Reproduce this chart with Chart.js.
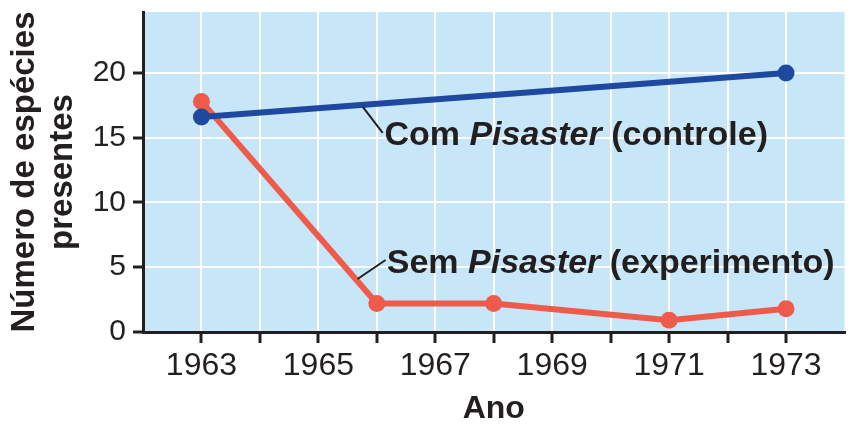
<!DOCTYPE html>
<html lang="pt">
  <head>
    <meta charset="UTF-8" />
    <title>Número de espécies presentes</title>
    <style>
      html, body { margin: 0; padding: 0; background: #fff; }
      #wrap { width: 853px; height: 440px; }
    </style>
  </head>
  <body>
    <div id="wrap"><canvas id="grafico"></canvas></div>

    <script src="https://cdn.jsdelivr.net/npm/chart.js"></script>
    <script>
      // dados
      const anosTicks = [1963, 1964, 1965, 1966, 1967, 1968, 1969, 1970, 1971, 1972, 1973];
      const ticksY = [0, 5, 10, 15, 20];
      const anosCom = [1963, 1973];
      const comPisaster = [16.6, 20];
      const anosSem = [1963, 1966, 1968, 1971, 1973];
      const semPisaster = [17.8, 2.2, 2.2, 0.9, 1.8];

      const AZUL = "#1f48a0";
      const VERMELHO = "#ef5b4b";
      const FUNDO = "#c7e7f8";
      const TEXTO = "#231f20";
      const FONTE = "'Liberation Sans', Arial, sans-serif";

      const pares = (xs, ys) => xs.map((x, i) => ({ x: x, y: ys[i] }));

      const fundoPlugin = {
        id: "fundo",
        beforeDraw(chart) {
          const { ctx, chartArea: a } = chart;
          ctx.save();
          ctx.fillStyle = FUNDO;
          ctx.fillRect(a.left, a.top, a.right - a.left, a.bottom - a.top);
          ctx.restore();
        },
      };

      // rótulos das linhas com traço indicador
      const rotulos = [
        {
          partes: [["Com ", "bold"], ["Pisaster", "italic bold"], [" (controle)", "bold"]],
          x: 1966.13, y: 14.44,
          traco: [1965.76, 17.37, 1966.1, 15.37],
        },
        {
          partes: [["Sem ", "bold"], ["Pisaster", "italic bold"], [" (experimento)", "bold"]],
          x: 1966.17, y: 4.56,
          traco: [1965.67, 4.09, 1966.15, 5.56],
        },
      ];

      const rotulosPlugin = {
        id: "rotulos",
        afterDatasetsDraw(chart) {
          const { ctx, scales } = chart;
          const sx = scales.x, sy = scales.y;
          ctx.save();
          rotulos.forEach((r) => {
            const t = r.traco;
            ctx.strokeStyle = TEXTO;
            ctx.lineWidth = 2;
            ctx.beginPath();
            ctx.moveTo(sx.getPixelForValue(t[0]), sy.getPixelForValue(t[1]));
            ctx.lineTo(sx.getPixelForValue(t[2]), sy.getPixelForValue(t[3]));
            ctx.stroke();

            let px = sx.getPixelForValue(r.x);
            const py = sy.getPixelForValue(r.y);
            ctx.fillStyle = TEXTO;
            ctx.textBaseline = "alphabetic";
            ctx.textAlign = "left";
            r.partes.forEach(([txt, estilo]) => {
              ctx.font = estilo + " 34px " + FONTE;
              ctx.fillText(txt, px, py);
              px += ctx.measureText(txt).width;
            });
          });
          ctx.restore();
        },
      };

      const ctx = document.getElementById("grafico").getContext("2d");
      new Chart(ctx, {
        type: "line",
        data: {
          datasets: [
            {
              label: "Com Pisaster (controle)",
              data: pares(anosCom, comPisaster),
              borderColor: AZUL,
              backgroundColor: AZUL,
              borderWidth: 6,
              pointRadius: 8.5,
              pointBorderWidth: 0,
              order: 1,
            },
            {
              label: "Sem Pisaster (experimento)",
              data: pares(anosSem, semPisaster),
              borderColor: VERMELHO,
              backgroundColor: VERMELHO,
              borderWidth: 6,
              pointRadius: 8.5,
              pointBorderWidth: 0,
              order: 2,
            },
          ],
        },
        options: {
          responsive: true,
          maintainAspectRatio: false,
          animation: false,
          layout: { padding: { top: 12, right: 4, left: 0, bottom: 0 } },
          plugins: {
            legend: { display: false },
            tooltip: { enabled: false },
          },
          scales: {
            x: {
              type: "linear",
              min: 1962,
              max: 1974,
              afterBuildTicks: (s) => { s.ticks = anosTicks.map((v) => ({ value: v })); },
              afterFit: (s) => {
                s.height = 108;
                s.paddingLeft = 0;
                s.paddingRight = 0;
              },
              ticks: {
                autoSkip: false,
                maxRotation: 0,
                padding: 4,
                color: TEXTO,
                font: { family: FONTE, size: 32 },
                callback: (v) => (v % 2 === 1 ? String(v) : ""),
              },
              grid: {
                color: "#ffffff",
                lineWidth: 2,
                tickColor: TEXTO,
                tickWidth: 3,
                tickLength: 11,
              },
              border: { color: TEXTO, width: 3 },
              title: {
                display: true,
                text: "Ano",
                color: TEXTO,
                font: { family: FONTE, size: 32, weight: "bold", lineHeight: 1.2 },
                padding: { top: 0, bottom: 12 },
              },
            },
            y: {
              min: 0,
              max: 24.7,
              afterBuildTicks: (s) => { s.ticks = ticksY.map((v) => ({ value: v })); },
              afterFit: (s) => {
                s.width = 143;
                s.paddingTop = 0;
                s.paddingBottom = 0;
              },
              ticks: {
                padding: 7,
                color: TEXTO,
                font: { family: FONTE, size: 30 },
              },
              grid: {
                color: "#ffffff",
                lineWidth: 2,
                tickColor: TEXTO,
                tickWidth: 3,
                tickLength: 10,
              },
              border: { color: TEXTO, width: 3 },
              title: {
                display: true,
                text: ["Número de espécies", "presentes"],
                color: TEXTO,
                font: { family: FONTE, size: 33, weight: "bold", lineHeight: 1.15 },
                padding: { top: 6, bottom: 0 },
              },
            },
          },
        },
        plugins: [fundoPlugin, rotulosPlugin],
      });
    </script>
  </body>
</html>
